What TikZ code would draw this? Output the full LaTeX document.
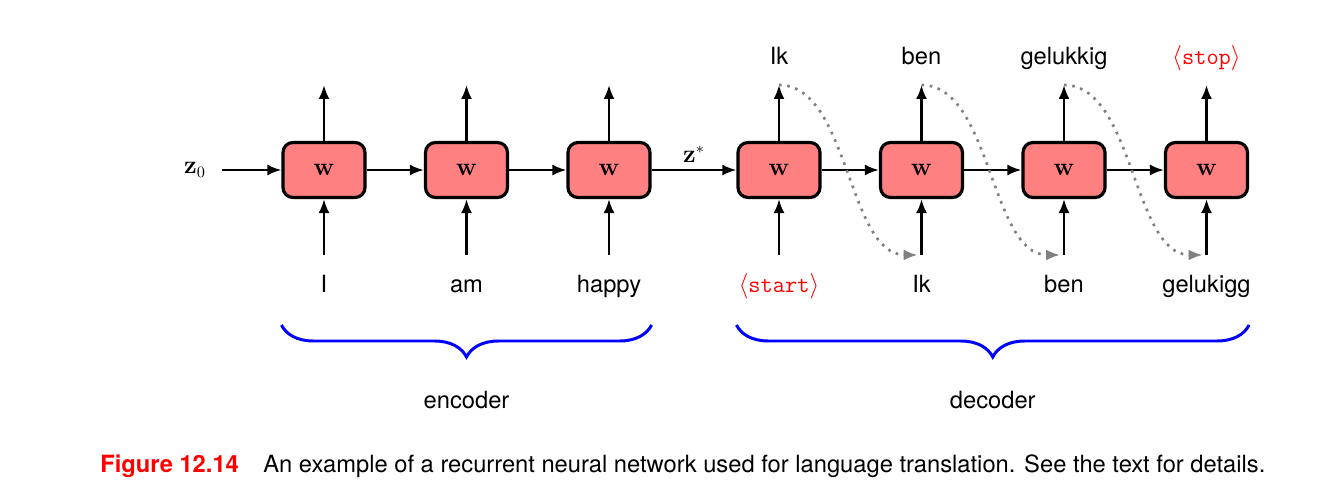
\documentclass[tikz,border=0pt]{standalone}
\usepackage[no-math]{fontspec}
\setmainfont{TeX Gyre Heros}
\usepackage{xcolor}
\usepackage{tikz}
\usetikzlibrary{arrows.meta, positioning, decorations.pathreplacing}
\tikzstyle{cell} = [rectangle, rounded corners=0.2cm, minimum width=1.64cm, minimum height=1.1cm, text centered, draw=black, line width=1.8pt, fill=red!50]
\tikzstyle{arrow} = [line width=1.35pt, -{Latex[length=2.8mm, width=2.2mm]}]
\tikzstyle{feed} = [gray, line width=1.5pt, dash pattern=on 1.5pt off 3.2pt, -{Latex[length=2.8mm, width=2.2mm]}]
\tikzstyle{brace} = [blue, line width=1.7pt, decorate, decoration={brace, amplitude=0.64cm}]

\begin{document}
\begin{tikzpicture}[node distance=2.85cm, font=\fontsize{13.5}{16}\selectfont]
\useasboundingbox (-6.48,-6.5) rectangle (20.08,3.4);
% encoder
\node (enc1) [cell] {$\mathbf{w}$};
\node (enc2) [cell, right of=enc1] {$\mathbf{w}$};
\node (enc3) [cell, right of=enc2] {$\mathbf{w}$};
% decoder
\node (dec1) [cell, right of=enc3, xshift=0.55cm] {$\mathbf{w}$};
\node (dec2) [cell, right of=dec1] {$\mathbf{w}$};
\node (dec3) [cell, right of=dec2] {$\mathbf{w}$};
\node (dec4) [cell, right of=dec3] {$\mathbf{w}$};
% arrow ends above and below
\coordinate [above=1.7cm of enc1.center] (t1);
\coordinate [above=1.7cm of enc2.center] (t2);
\coordinate [above=1.7cm of enc3.center] (t3);
\coordinate [above=1.7cm of dec1.center] (t4);
\coordinate [above=1.7cm of dec2.center] (t5);
\coordinate [above=1.7cm of dec3.center] (t6);
\coordinate [above=1.7cm of dec4.center] (t7);
\coordinate [below=1.7cm of enc1.center] (b1);
\coordinate [below=1.7cm of enc2.center] (b2);
\coordinate [below=1.7cm of enc3.center] (b3);
\coordinate [below=1.7cm of dec1.center] (b4);
\coordinate [below=1.7cm of dec2.center] (b5);
\coordinate [below=1.7cm of dec3.center] (b6);
\coordinate [below=1.7cm of dec4.center] (b7);
% words
\node (in1) [below=2.45cm of enc1.center, anchor=base] {I};
\node (in2) [below=2.45cm of enc2.center, anchor=base] {am};
\node (in3) [below=2.45cm of enc3.center, anchor=base] {happy};
\node (in4) [below=2.45cm of dec1.center, anchor=base, text=red] {$\langle$\texttt{start}$\rangle$};
\node (in5) [below=2.45cm of dec2.center, anchor=base] {Ik};
\node (in6) [below=2.45cm of dec3.center, anchor=base] {ben};
\node (in7) [below=2.45cm of dec4.center, anchor=base] {gelukigg};
\node (out4) [above=2.1cm of dec1.center, anchor=base] {Ik};
\node (out5) [above=2.1cm of dec2.center, anchor=base] {ben};
\node (out6) [above=2.1cm of dec3.center, anchor=base] {gelukkig};
\node (out7) [above=2.1cm of dec4.center, anchor=base, text=red] {$\langle$\texttt{stop}$\rangle$};
\node (z0) [node distance=2.58cm, left of=enc1] {$\mathbf{z}_0$};
% connections
\draw [arrow, shorten <=0.2cm] (z0) -- (enc1);
\draw [arrow] (enc1) -- (enc2);
\draw [arrow] (enc2) -- (enc3);
\draw [arrow] (enc3) -- node [above] {$\mathbf{z}^*$} (dec1);
\draw [arrow] (dec1) -- (dec2);
\draw [arrow] (dec2) -- (dec3);
\draw [arrow] (dec3) -- (dec4);
\draw [arrow] (enc1) -- (t1);
\draw [arrow] (enc2) -- (t2);
\draw [arrow] (enc3) -- (t3);
\draw [arrow] (dec1) -- (t4);
\draw [arrow] (dec2) -- (t5);
\draw [arrow] (dec3) -- (t6);
\draw [arrow] (dec4) -- (t7);
\draw [arrow] (b1) -- (enc1);
\draw [arrow] (b2) -- (enc2);
\draw [arrow] (b3) -- (enc3);
\draw [arrow] (b4) -- (dec1);
\draw [arrow] (b5) -- (dec2);
\draw [arrow] (b6) -- (dec3);
\draw [arrow] (b7) -- (dec4);
% outputs fed back as next inputs
\draw [feed] (t4) .. controls +(1.4,0) and +(-1.4,0) .. ([xshift=-0.08cm]b5);
\draw [feed] (t5) .. controls +(1.4,0) and +(-1.4,0) .. ([xshift=-0.08cm]b6);
\draw [feed] (t6) .. controls +(1.4,0) and +(-1.4,0) .. ([xshift=-0.08cm]b7);
% braces
\draw [brace] ([yshift=-3.1cm]enc3.east) -- node [midway, yshift=-1.5cm, text=black] (enctext) {encoder} ([yshift=-3.1cm]enc1.west);
\draw [brace] ([yshift=-3.1cm]dec4.east) -- node [midway, yshift=-1.5cm, text=black] (dectext) {decoder} ([yshift=-3.1cm]dec1.west);
% caption
\node (figno) [anchor=base west, inner sep=0pt, text=red, font=\fontsize{13.5}{16}\selectfont\bfseries] at (-4.48,-6.04) {Figure 12.14};
\node (figtext) [anchor=base west, inner sep=0pt] at (-1.22,-6.04) {An example of a recurrent neural network used for language translation. See the text for details.};
\end{tikzpicture}
\end{document}
